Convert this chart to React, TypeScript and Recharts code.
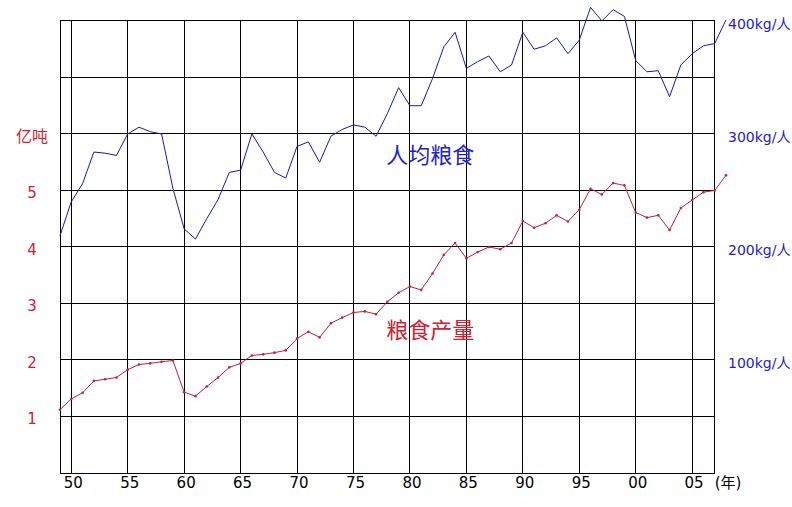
import React from 'react';
import { LineChart, Line, XAxis, YAxis, ReferenceLine, ReferenceDot } from 'recharts';

// years 1949–2008
const years = [
  1949, 1950, 1951, 1952, 1953, 1954, 1955, 1956, 1957, 1958, 1959,
  1960, 1961, 1962, 1963, 1964, 1965, 1966, 1967, 1968, 1969,
  1970, 1971, 1972, 1973, 1974, 1975, 1976, 1977, 1978, 1979,
  1980, 1981, 1982, 1983, 1984, 1985, 1986, 1987, 1988, 1989,
  1990, 1991, 1992, 1993, 1994, 1995, 1996, 1997, 1998, 1999,
  2000, 2001, 2002, 2003, 2004, 2005, 2006, 2007, 2008,
];

// 粮食产量 (亿吨)
const output = [
  1.12, 1.31, 1.42, 1.63, 1.66, 1.69, 1.83, 1.92, 1.94, 1.97, 1.99,
  1.43, 1.36, 1.53, 1.69, 1.87, 1.94, 2.08, 2.1, 2.13, 2.17,
  2.38, 2.5, 2.4, 2.65, 2.75, 2.84, 2.86, 2.81, 3.03, 3.19,
  3.3, 3.24, 3.53, 3.86, 4.07, 3.8, 3.91, 4.0, 3.96, 4.07,
  4.46, 4.34, 4.42, 4.56, 4.45, 4.66, 5.03, 4.93, 5.13, 5.09,
  4.61, 4.52, 4.56, 4.3, 4.69, 4.83, 4.97, 5.0, 5.27,
];

// 人均粮食 (kg/人)
const perCapita = [
  210, 240, 256, 284, 283, 281, 300, 306, 302, 300, 252,
  216, 207, 225, 242, 266, 268, 300, 284, 266, 261,
  289, 293, 275, 298, 304, 308, 306, 298, 318, 341,
  325, 325, 349, 377, 390, 358, 364, 369, 355, 361,
  390, 375, 378, 385, 371, 383, 412, 400, 410, 404,
  365, 355, 356, 333, 361, 371, 378, 380, 401,
];

const xTicks = [1950, 1955, 1960, 1965, 1970, 1975, 1980, 1985, 1990, 1995, 2000, 2005, 2008];
const leftTicks = [1, 2, 3, 4, 5, 6];
const rightTicks = [100, 200, 300, 400];
const hGrid = [1, 2, 3, 4, 5, 6, 7];
const vGrid = [1950, 1955, 1960, 1965, 1970, 1975, 1980, 1985, 1990, 1995, 2000, 2005];

const data = years.map((year, i) => ({ year, output: output[i], perCapita: perCapita[i] }));

const RED = '#c81e3c';
const BLUE = '#1818b4';
const RED_TEXT = '#d42030';
const BLUE_TEXT = '#2222cc';
const FONT = '"DejaVu Sans", "Noto Sans CJK SC", sans-serif';

const fmtYear = (v: number) => (v === 2008 ? '(年)' : String(v % 100).padStart(2, '0'));

const XTick = (props: any) => {
  const { x, y, payload } = props;
  return (
    <text x={x + 2} y={y} dy={5} textAnchor="middle" fill="#000" fontSize={15} fontFamily={FONT}>
      {fmtYear(payload.value)}
    </text>
  );
};

const LeftTick = (props: any) => {
  const { x, y, payload } = props;
  const isUnit = payload.value === 6;
  return (
    <text x={x} y={y} dy={8} textAnchor="middle" fill={RED_TEXT} fontSize={isUnit ? 16 : 15} fontFamily={FONT}>
      {isUnit ? '亿吨' : payload.value}
    </text>
  );
};

const RightTick = (props: any) => {
  const { x, y, payload } = props;
  return (
    <text x={x} y={y} dy={8} textAnchor="start" fill={BLUE_TEXT} fontSize={14} fontFamily={FONT}>
      {payload.value}kg/人
    </text>
  );
};

export default function App() {
  return (
    <div style={{ position: 'absolute', left: 0, top: 0, width: 792, height: 507, background: '#fff', fontFamily: FONT }}>
      <LineChart width={792} height={507} data={data} margin={{ top: 4, right: 0, bottom: 0, left: 0 }}>
        <XAxis
          dataKey="year"
          type="number"
          domain={[1949, 2008]}
          ticks={xTicks}
          interval={0}
          axisLine={false}
          tickLine={false}
          tickMargin={4}
          height={34}
          tick={<XTick />}
        />
        <YAxis
          yAxisId="left"
          domain={[0, 8.3]}
          ticks={leftTicks}
          interval={0}
          axisLine={false}
          tickLine={false}
          width={60}
          tickMargin={22}
          tick={<LeftTick />}
        />
        <YAxis
          yAxisId="right"
          orientation="right"
          domain={[0, 415]}
          ticks={rightTicks}
          interval={0}
          axisLine={false}
          tickLine={false}
          width={66}
          tickMargin={-4}
          tick={<RightTick />}
        />
        {hGrid.map((v) => (
          <ReferenceLine
            key={`h${v}`}
            yAxisId="left"
            segment={[{ x: 1949, y: v }, { x: 2007, y: v }]}
            stroke="#000"
            strokeWidth={1}
            shapeRendering="crispEdges"
          />
        ))}
        {vGrid.map((v) => (
          <ReferenceLine
            key={`v${v}`}
            yAxisId="left"
            segment={[{ x: v, y: 0 }, { x: v, y: 8 }]}
            stroke="#000"
            strokeWidth={1}
            shapeRendering="crispEdges"
          />
        ))}
        <ReferenceLine yAxisId="left" segment={[{ x: 1949, y: 0 }, { x: 1949, y: 8 }]} stroke="#000" shapeRendering="crispEdges" />
        <ReferenceLine yAxisId="left" segment={[{ x: 2007, y: 0 }, { x: 2007, y: 8 }]} stroke="#000" shapeRendering="crispEdges" />
        <ReferenceLine yAxisId="left" segment={[{ x: 1949, y: 0 }, { x: 2007, y: 0 }]} stroke="#000" shapeRendering="crispEdges" />
        <ReferenceLine yAxisId="left" segment={[{ x: 1949, y: 8 }, { x: 2007, y: 8 }]} stroke="#000" shapeRendering="crispEdges" />
        <ReferenceDot
          yAxisId="left"
          x={1981.8}
          y={5.63}
          r={0}
          stroke="none"
          label={{ value: '人均粮食', position: 'center', fill: BLUE_TEXT, fontSize: 22, fontFamily: '"Noto Sans CJK SC", sans-serif' }}
        />
        <ReferenceDot
          yAxisId="left"
          x={1981.8}
          y={2.53}
          r={0}
          stroke="none"
          label={{ value: '粮食产量', position: 'center', fill: RED_TEXT, fontSize: 22, fontFamily: '"Noto Sans CJK SC", sans-serif' }}
        />
        <Line
          yAxisId="left"
          dataKey="output"
          stroke={RED}
          strokeWidth={1}
          dot={{ r: 1.3, fill: RED, stroke: RED, strokeWidth: 0 }}
          isAnimationActive={false}
        />
        <Line
          yAxisId="right"
          dataKey="perCapita"
          stroke={BLUE}
          strokeWidth={1}
          dot={false}
          isAnimationActive={false}
        />
      </LineChart>
    </div>
  );
}
